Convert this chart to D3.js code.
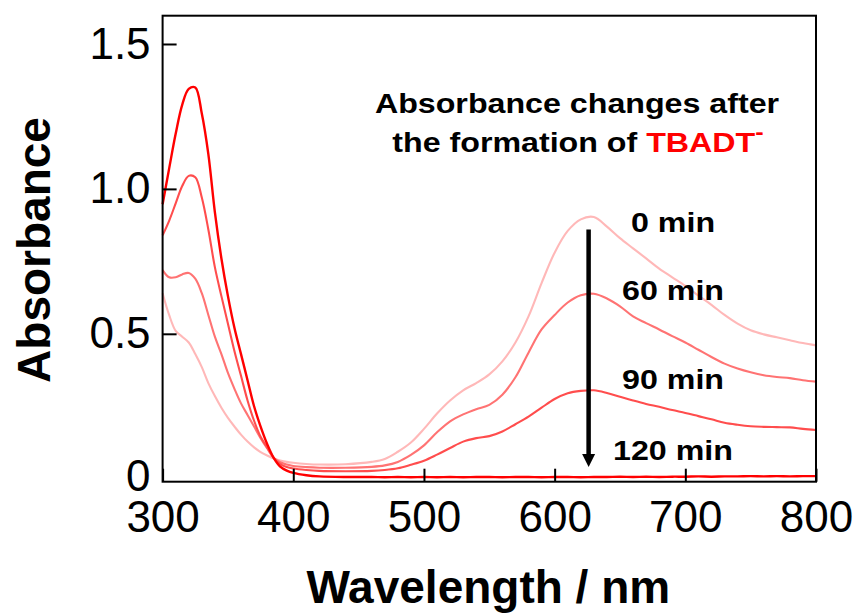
<!DOCTYPE html>
<html>
<head>
<meta charset="utf-8">
<script src="https://cdn.jsdelivr.net/npm/d3@7"></script>
<style>
  body { margin: 0; background: #fff; }
  svg { display: block; font-family: "Liberation Sans", Arial, sans-serif; }
</style>
</head>
<body>
<svg id="chart" width="858" height="614"></svg>
<script>
// Wavelength grid (nm) shared by all spectra
const wavelengths = [300,305,310,315,320,325,330,335,340,345,350,355,360,365,370,375,380,385,390,395,400,
  410,420,440,460,470,480,490,500,510,520,530,540,550,560,570,580,590,600,610,620,630,640,650,660,670,
  680,690,700,710,720,730,740,750,760,770,780,790,800];

// Absorbance, one array per time
const abs0 = [0.64,0.565,0.51,0.49,0.47,0.43,0.385,0.33,0.285,0.245,0.21,0.18,0.152,0.128,0.108,0.092,0.08,0.07,0.063,0.058,0.055,
  0.051,0.049,0.05,0.058,0.068,0.093,0.125,0.172,0.225,0.27,0.305,0.33,0.36,0.405,0.47,0.56,0.675,0.78,0.855,0.895,0.903,0.87,0.83,0.795,0.76,
  0.725,0.695,0.665,0.632,0.6,0.565,0.535,0.512,0.498,0.488,0.478,0.468,0.46];
const abs60 = [0.72,0.695,0.695,0.705,0.71,0.69,0.64,0.565,0.49,0.43,0.365,0.31,0.26,0.22,0.18,0.14,0.105,0.072,0.057,0.049,0.044,
  0.04,0.038,0.038,0.041,0.046,0.058,0.082,0.115,0.16,0.198,0.222,0.24,0.255,0.29,0.35,0.435,0.515,0.565,0.608,0.633,0.638,0.622,0.595,0.56,0.537,
  0.515,0.492,0.47,0.445,0.42,0.397,0.38,0.367,0.357,0.351,0.347,0.34,0.335];
const abs90 = [0.84,0.89,0.95,1.01,1.045,1.04,0.97,0.86,0.73,0.63,0.535,0.44,0.355,0.27,0.2,0.145,0.108,0.072,0.05,0.04,0.035,
  0.03,0.027,0.026,0.027,0.03,0.036,0.048,0.062,0.083,0.106,0.128,0.14,0.147,0.163,0.188,0.214,0.245,0.275,0.295,0.303,0.305,0.296,0.283,0.27,0.258,
  0.248,0.237,0.227,0.216,0.205,0.193,0.186,0.181,0.179,0.178,0.177,0.172,0.168];
const abs120 = [0.947,1.07,1.19,1.29,1.345,1.35,1.26,1.12,0.92,0.76,0.63,0.52,0.43,0.34,0.25,0.18,0.12,0.072,0.042,0.028,0.02,
  0.012,0.008,0.006,0.006,0.005,0.006,0.005,0.006,0.005,0.006,0.005,0.006,0.006,0.005,0.006,0.006,0.005,0.006,0.006,0.005,0.006,0.006,0.007,0.006,0.007,
  0.006,0.007,0.007,0.008,0.007,0.008,0.008,0.009,0.008,0.009,0.008,0.009,0.009];

const seriesNames = ['0 min', '60 min', '90 min', '120 min'];
const seriesValues = [abs0, abs60, abs90, abs120];
const seriesColors = ['#ffb8b8', '#ff7373', '#ff4d4d', '#ff0000'];
const labelBaselines = [231.7, 300, 389, 460];

const xTicks = [300, 400, 500, 600, 700, 800];
const yTicks = [0, 0.5, 1.0, 1.5];
const yTickLabels = ['0', '0.5', '1.0', '1.5'];

// Arrow marking the decay at the visible band
const arrowWavelength = 626;
const arrowFrom = 0.86;
const arrowTo = 0.04;

const margin = { top: 15.7, right: 42, bottom: 132.3, left: 162.6 };
const width = 858 - margin.left - margin.right;
const height = 614 - margin.top - margin.bottom;

const svg = d3.select('#chart');
const g = svg.append('g').attr('transform', `translate(${margin.left},${margin.top})`);

const x = d3.scaleLinear().domain([300, 800]).range([0, width]);
const y = d3.scaleLinear().domain([-0.0103, 1.5976]).range([height, 0]);

// Spectra
const line = d3.line()
  .x(d => x(d[0]))
  .y(d => y(d[1]))
  .curve(d3.curveCatmullRom.alpha(0.5));

seriesValues.forEach((vals, i) => {
  g.append('path')
    .datum(wavelengths.map((w, j) => [w, vals[j]]))
    .attr('fill', 'none')
    .attr('stroke', seriesColors[i])
    .attr('stroke-width', i === 3 ? 2.4 : 2.1)
    .attr('d', line);
});

// Axes with inward ticks
const xAxis = g.append('g')
  .attr('transform', `translate(0,${height})`)
  .call(d3.axisBottom(x).tickValues(xTicks).tickSizeInner(-13).tickSizeOuter(0).tickPadding(19));
const yAxis = g.append('g')
  .call(d3.axisLeft(y).tickValues(yTicks).tickFormat((d, i) => yTickLabels[i])
    .tickSizeInner(-14).tickSizeOuter(0).tickPadding(12));

[xAxis, yAxis].forEach(ax => {
  ax.select('.domain').remove();
  ax.selectAll('line').attr('stroke', '#000').attr('stroke-width', 2);
  ax.selectAll('text').attr('font-size', 44).attr('fill', '#000')
    .attr('font-family', '"Liberation Sans", Arial, sans-serif');
});
yAxis.selectAll('.tick').filter(d => d === 0).select('line').remove();
yAxis.selectAll('.tick').filter(d => d === 0).select('text').attr('dy', '0.26em');

// Frame
g.append('rect')
  .attr('width', width).attr('height', height)
  .attr('fill', 'none').attr('stroke', '#000').attr('stroke-width', 2);

// Axis titles
svg.append('text')
  .attr('x', margin.left + width / 2 - 1).attr('y', 603)
  .attr('text-anchor', 'middle').attr('font-size', 46).attr('font-weight', 'bold')
  .text('Wavelength / nm');
svg.append('text')
  .attr('transform', 'translate(50,250) rotate(-90)')
  .attr('text-anchor', 'middle').attr('font-size', 46).attr('font-weight', 'bold')
  .text('Absorbance');

// Annotation
const note = svg.append('g').attr('font-size', 28).attr('font-weight', 'bold');
note.append('text')
  .attr('transform', 'translate(577,113.3) scale(1.15,1)')
  .attr('text-anchor', 'middle')
  .text('Absorbance changes after');
const note2 = note.append('text')
  .attr('transform', 'translate(578,151.7) scale(1.15,1)')
  .attr('text-anchor', 'middle');
note2.append('tspan').text('the formation of ');
note2.append('tspan').attr('fill', '#ff0000').text('TBADT');
note2.append('tspan').attr('fill', '#ff0000').attr('font-size', 22).attr('dy', -13).text('-');

// Time labels
seriesNames.forEach((name, i) => {
  note.append('text')
    .attr('transform', `translate(673,${labelBaselines[i]}) scale(1.15,1)`)
    .attr('text-anchor', 'middle')
    .text(name);
});

// Arrow
const ax0 = x(arrowWavelength);
const tipY = y(arrowTo);
g.append('line')
  .attr('x1', ax0).attr('x2', ax0)
  .attr('y1', y(arrowFrom)).attr('y2', tipY - 10)
  .attr('stroke', '#000').attr('stroke-width', 4.5);
g.append('path')
  .attr('d', `M${ax0 - 6.5},${tipY - 13}L${ax0 + 6.5},${tipY - 13}L${ax0},${tipY}Z`)
  .attr('fill', '#000');
</script>
</body>
</html>
